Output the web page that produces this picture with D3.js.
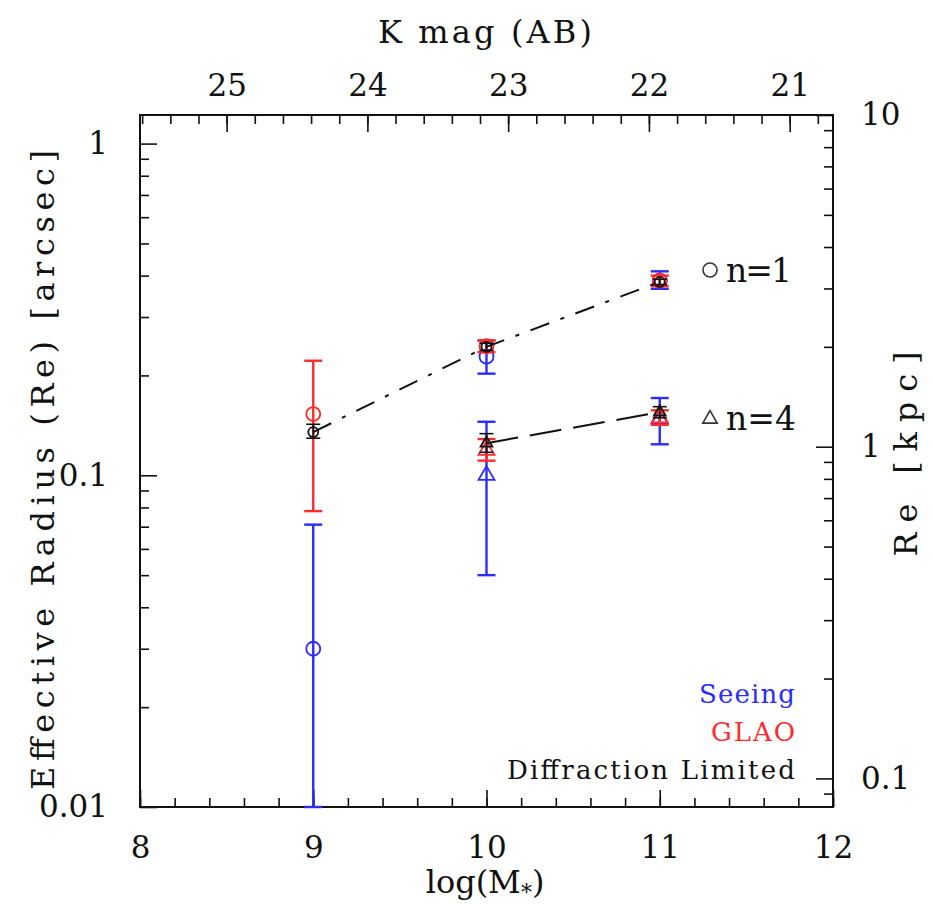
<!DOCTYPE html>
<html>
<head>
<meta charset="utf-8">
<script src="https://cdn.jsdelivr.net/npm/d3@7"></script>
<style>
  body { margin: 0; background: #fff; }
  text { font-family: "DejaVu Serif", serif; fill: #111; }
</style>
</head>
<body>
<div id="mainDiv"></div>
<script>
// stellar mass bins
const logMass = [9, 10, 11];

// Seeing (blue)
const seeingN1 = [0.03, 0.228, 0.386];
const seeingN1Lo = [0.01, 0.2025, 0.365];
const seeingN1Hi = [0.071, 0.255, 0.412];
const seeingN4 = [null, 0.1, 0.148];
const seeingN4Lo = [null, 0.05, 0.124];
const seeingN4Hi = [null, 0.145, 0.171];

// GLAO (red)
const glaoN1 = [0.153, 0.245, 0.386];
const glaoN1Lo = [0.078, 0.235, 0.372];
const glaoN1Hi = [0.2215, 0.255, 0.40];
const glaoN4 = [null, 0.119, 0.149];
const glaoN4Lo = [null, 0.1107, 0.142];
const glaoN4Hi = [null, 0.1286, 0.157];

// Diffraction limited (black)
const diffN1 = [0.135, 0.244, 0.383];
const diffN1Lo = [0.1294, 0.238, 0.376];
const diffN1Hi = [0.1425, 0.25, 0.39];
const diffN4 = [null, 0.125, 0.155];
const diffN4Lo = [null, 0.1173, 0.149];
const diffN4Hi = [null, 0.1335, 0.161];

// tick labels
const massTicks = [8, 9, 10, 11, 12];
const kmagTicks = [25, 24, 23, 22, 21];
const radiusTicks = [0.01, 0.1, 1];
const kpcTicks = [0.1, 1, 10];

const kpcPerArcsec = 8.2;

const chartSize = {
  margin: ({ top: 115, right: 100, bottom: 101, left: 140 }),
  height: 908,
  width: 932,
};
const plotRight = chartSize.width - chartSize.margin.right + 1;
const plotBottom = chartSize.height - chartSize.margin.bottom;

const colors = { seeing: "#2b2bff", glao: "#ff2a2a", diff: "#111" };

let x = d3.scaleLinear()
  .domain([8, 12])
  .range([chartSize.margin.left, plotRight]);

let y = d3.scaleLog()
  .domain([0.01, 10 / kpcPerArcsec])
  .range([plotBottom, chartSize.margin.top]);

// K mag on top: 25 mag at logM 8.5, 0.8125 dex per mag
let kmag = d3.scaleLinear()
  .domain([25 + 0.5 / 0.8125, 25 - 3.5 / 0.8125])
  .range(x.range());

let kpc = d3.scaleLog()
  .domain([0.01 * kpcPerArcsec, 10])
  .range(y.range());

function minorLog(scale) {
  let [lo, hi] = scale.domain();
  let out = [];
  for (let d = Math.pow(10, Math.floor(Math.log10(lo))); d < hi; d *= 10) {
    for (let k = 2; k <= 9; k++) {
      if (d * k >= lo && d * k <= hi) out.push(d * k);
    }
  }
  return out;
}

function minorLin(scale, step) {
  let [a, b] = scale.domain();
  let lo = Math.min(a, b), hi = Math.max(a, b);
  let out = [];
  for (let v = Math.ceil(lo / step) * step; v <= hi; v += step) {
    out.push(+v.toFixed(3));
  }
  return out;
}

const svg = d3.select("#mainDiv")
  .append("svg")
  .attr("width", chartSize.width)
  .attr("height", chartSize.height);

function styleAxis(g) {
  g.select(".domain").remove();
  g.selectAll("line").attr("stroke", "#111").attr("stroke-width", 1.6);
  g.selectAll("text")
    .attr("font-size", 31)
    .attr("font-family", "DejaVu Serif")
    .attr("fill", "#111");
}

// bottom axis
svg.append("g")
  .attr("transform", `translate(0,${plotBottom})`)
  .call(d3.axisBottom(x).tickValues(minorLin(x, 0.2)).tickSize(-9).tickFormat(""))
  .call(styleAxis);
svg.append("g")
  .attr("transform", `translate(0,${plotBottom})`)
  .call(d3.axisBottom(x).tickValues(massTicks).tickSize(-17).tickPadding(29).tickFormat(d3.format("d")))
  .call(styleAxis);

// top axis
svg.append("g")
  .attr("transform", `translate(0,${chartSize.margin.top})`)
  .call(d3.axisTop(kmag).tickValues(minorLin(kmag, 0.2)).tickSize(-9).tickFormat(""))
  .call(styleAxis);
svg.append("g")
  .attr("transform", `translate(0,${chartSize.margin.top})`)
  .call(d3.axisTop(kmag).tickValues(kmagTicks).tickSize(-17).tickPadding(19).tickFormat(d3.format("d")))
  .call(styleAxis);

// left axis
svg.append("g")
  .attr("transform", `translate(${chartSize.margin.left},0)`)
  .call(d3.axisLeft(y).tickValues(minorLog(y)).tickSize(-9).tickFormat(""))
  .call(styleAxis);
svg.append("g")
  .attr("transform", `translate(${chartSize.margin.left},0)`)
  .call(d3.axisLeft(y).tickValues(radiusTicks).tickSize(-17).tickPadding(32).tickFormat(d => String(d)))
  .call(styleAxis);

// right axis
svg.append("g")
  .attr("transform", `translate(${plotRight},0)`)
  .call(d3.axisRight(kpc).tickValues(minorLog(kpc)).tickSize(-9).tickFormat(""))
  .call(styleAxis);
svg.append("g")
  .attr("transform", `translate(${plotRight},0)`)
  .call(d3.axisRight(kpc).tickValues(kpcTicks).tickSize(-17).tickPadding(28).tickFormat(d => String(d)))
  .call(styleAxis);

// frame
svg.append("rect")
  .attr("x", chartSize.margin.left)
  .attr("y", chartSize.margin.top)
  .attr("width", plotRight - chartSize.margin.left)
  .attr("height", plotBottom - chartSize.margin.top)
  .attr("fill", "none")
  .attr("stroke", "#111")
  .attr("stroke-width", 2);

// axis titles
svg.append("text")
  .attr("x", 485).attr("y", 43)
  .attr("text-anchor", "middle")
  .attr("font-size", 32)
  .attr("textLength", 214)
  .text("K mag (AB)");

let xTitle = svg.append("text")
  .attr("x", 485).attr("y", 893)
  .attr("text-anchor", "middle")
  .attr("font-size", 32);
xTitle.append("tspan").text("log(M");
xTitle.append("tspan").attr("font-size", 22).attr("dy", 7).text("*");
xTitle.append("tspan").attr("dy", -7).text(")");

svg.append("text")
  .attr("transform", "translate(54,470) rotate(-90)")
  .attr("text-anchor", "middle")
  .attr("font-size", 32)
  .attr("textLength", 640)
  .text("Effective Radius (Re) [arcsec]");

svg.append("text")
  .attr("transform", "translate(917,454) rotate(-90)")
  .attr("text-anchor", "middle")
  .attr("font-size", 32)
  .attr("textLength", 205)
  .text("Re [kpc]");

// data
const plotArea = svg.append("g");

function makeRows(vals, lo, hi) {
  return logMass.map((m, i) => ({ m, v: vals[i], lo: lo[i], hi: hi[i] }))
    .filter(d => d.v != null);
}

function drawErrors(rows, color, capW, width) {
  let g = plotArea.append("g").attr("stroke", color).attr("stroke-width", width);
  rows.forEach(d => {
    g.append("line")
      .attr("x1", x(d.m)).attr("x2", x(d.m))
      .attr("y1", y(d.lo)).attr("y2", y(d.hi));
    [d.lo, d.hi].forEach(e => {
      g.append("line")
        .attr("x1", x(d.m) - capW).attr("x2", x(d.m) + capW)
        .attr("y1", y(e)).attr("y2", y(e));
    });
  });
}

function drawCircles(rows, color, r) {
  plotArea.append("g")
    .selectAll("circle")
    .data(rows)
    .join("circle")
    .attr("cx", d => x(d.m))
    .attr("cy", d => y(d.v))
    .attr("r", r)
    .attr("fill", "none")
    .attr("stroke", color)
    .attr("stroke-width", 1.8);
}

function drawTriangles(rows, color, size) {
  plotArea.append("g")
    .selectAll("path")
    .data(rows)
    .join("path")
    .attr("d", d3.symbol(d3.symbolTriangle, size))
    .attr("transform", d => `translate(${x(d.m)},${y(d.v)})`)
    .attr("fill", "none")
    .attr("stroke", color)
    .attr("stroke-width", 1.8);
}

const seeing1 = makeRows(seeingN1, seeingN1Lo, seeingN1Hi);
const seeing4 = makeRows(seeingN4, seeingN4Lo, seeingN4Hi);
const glao1 = makeRows(glaoN1, glaoN1Lo, glaoN1Hi);
const glao4 = makeRows(glaoN4, glaoN4Lo, glaoN4Hi);
const diff1 = makeRows(diffN1, diffN1Lo, diffN1Hi);
const diff4 = makeRows(diffN4, diffN4Lo, diffN4Hi);

drawErrors(seeing1, colors.seeing, 9, 2.4);
drawErrors(seeing4, colors.seeing, 9, 2.4);
drawCircles(seeing1, colors.seeing, 7);
drawTriangles(seeing4, colors.seeing, 110);

drawErrors(glao1, colors.glao, 9, 2.4);
drawErrors(glao4, colors.glao, 9, 2.4);
drawCircles(glao1, colors.glao, 7);
drawTriangles(glao4, colors.glao, 110);

drawErrors(diff1, colors.diff, 7, 1.6);
drawErrors(diff4, colors.diff, 7, 1.6);
drawCircles(diff1, colors.diff, 5);
drawTriangles(diff4, colors.diff, 60);

// connecting lines through the diffraction limited points
let line = d3.line().x(d => x(d.m)).y(d => y(d.v));
plotArea.append("path")
  .datum(diff1)
  .attr("d", line)
  .attr("fill", "none")
  .attr("stroke", "#111")
  .attr("stroke-width", 2)
  .attr("stroke-dasharray", "20,12,4,12");
plotArea.append("path")
  .datum(diff4)
  .attr("d", line)
  .attr("fill", "none")
  .attr("stroke", "#111")
  .attr("stroke-width", 2)
  .attr("stroke-dasharray", "32,12");

// shape legend
svg.append("circle")
  .attr("cx", 710).attr("cy", 270).attr("r", 7)
  .attr("fill", "none").attr("stroke", "#333").attr("stroke-width", 1.6);
svg.append("text")
  .attr("x", 726).attr("y", 282)
  .attr("font-size", 33)
  .attr("textLength", 66)
  .text("n=1");
svg.append("path")
  .attr("d", d3.symbol(d3.symbolTriangle, 90))
  .attr("transform", "translate(710,419)")
  .attr("fill", "none").attr("stroke", "#333").attr("stroke-width", 1.6);
svg.append("text")
  .attr("x", 726).attr("y", 430)
  .attr("font-size", 33)
  .attr("textLength", 70)
  .text("n=4");

// observing mode legend
const modeLabels = ["Seeing", "GLAO", "Diffraction Limited"];
const modeColors = [colors.seeing, colors.glao, colors.diff];
const modeWidths = [96, 84, 288];
svg.append("g")
  .selectAll("text")
  .data(modeLabels)
  .join("text")
  .attr("x", 795)
  .attr("y", (d, i) => 703 + i * 38)
  .attr("text-anchor", "end")
  .attr("font-size", 26)
  .attr("textLength", (d, i) => modeWidths[i])
  .style("fill", (d, i) => modeColors[i])
  .text(d => d);
</script>
</body>
</html>
